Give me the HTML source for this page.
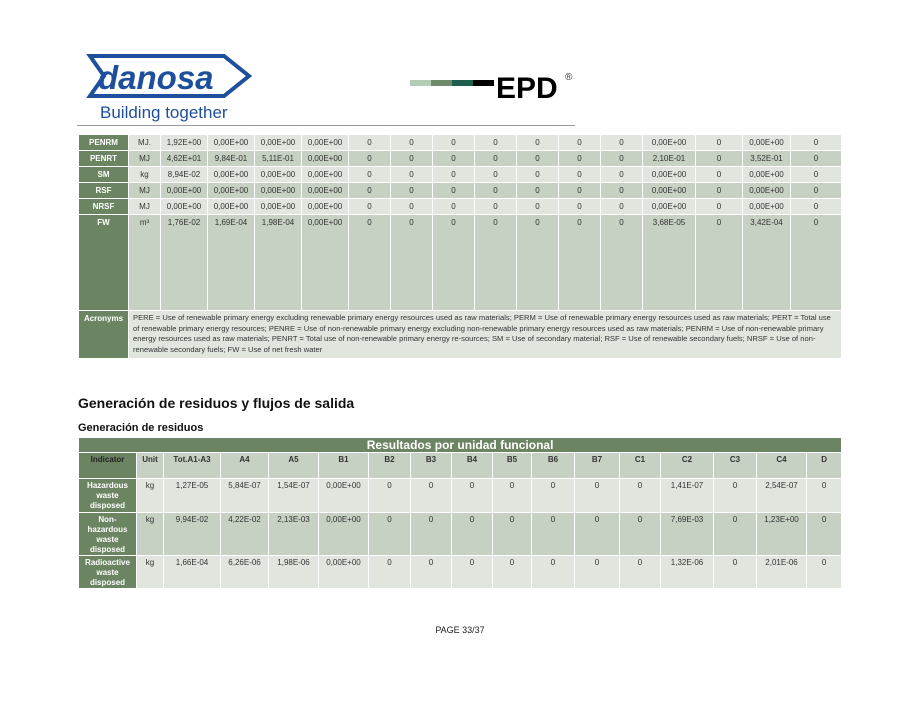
<!DOCTYPE html>
<html><head><meta charset="utf-8"><style>
body{margin:0;width:920px;height:710px;background:#fff;position:relative;font-family:"Liberation Sans",sans-serif;overflow:hidden}
.abs{position:absolute}
table{border-collapse:collapse;table-layout:fixed;position:absolute;font-size:8px;color:#333}
td{border:1px solid #fff;padding:0;vertical-align:top;text-align:center;padding-top:3px;line-height:10.5px}
td.h{background:#6b8462;color:#fff;font-weight:bold}
tr.l td{background:#e0e6de}
tr.d td{background:#c6d0c3}
td.h{background:#6b8462!important}
.t2 td{line-height:10px;padding-top:2px}
</style></head><body>
<svg class="abs" style="left:84px;top:52px" width="170" height="70">
<polygon points="6,4 140,4 165,24 140,44 6,44 20,24" fill="none" stroke="#1d4f9c" stroke-width="4"/>
<text x="14" y="37" font-family="Liberation Sans" font-weight="bold" font-style="italic" font-size="33" fill="#1d4f9c">danosa</text>
<text x="16" y="66" font-family="Liberation Sans" font-size="17" fill="#1d4f9c">Building together</text>
</svg>
<div class="abs" style="left:410px;top:80px;width:21px;height:6px;background:#b4cbb6"></div>
<div class="abs" style="left:431px;top:80px;width:21px;height:6px;background:#6f8a6b"></div>
<div class="abs" style="left:452px;top:80px;width:21px;height:6px;background:#1e5e4d"></div>
<div class="abs" style="left:473px;top:80px;width:21px;height:6px;background:#000"></div>
<div class="abs" style="left:496px;top:72px;font-size:30px;font-weight:bold;color:#000;line-height:34px">EPD</div>
<div class="abs" style="left:565px;top:72px;font-size:10px;color:#333">®</div>
<div class="abs" style="left:77px;top:125px;width:498px;height:1px;background:#999"></div>

<table style="left:78px;top:134px;width:763px">
<colgroup><col style="width:50px"><col style="width:32px"><col style="width:47px"><col style="width:47px"><col style="width:47px"><col style="width:47px"><col style="width:42px"><col style="width:42px"><col style="width:42px"><col style="width:42px"><col style="width:42px"><col style="width:42px"><col style="width:42px"><col style="width:53px"><col style="width:47px"><col style="width:48px"><col style="width:51px"></colgroup>
<tr class="l" style="height:16px"><td class="h">PENRM</td><td>MJ.</td><td>1,92E+00</td><td>0,00E+00</td><td>0,00E+00</td><td>0,00E+00</td><td>0</td><td>0</td><td>0</td><td>0</td><td>0</td><td>0</td><td>0</td><td>0,00E+00</td><td>0</td><td>0,00E+00</td><td>0</td></tr>
<tr class="d" style="height:16px"><td class="h">PENRT</td><td>MJ</td><td>4,62E+01</td><td>9,84E-01</td><td>5,11E-01</td><td>0,00E+00</td><td>0</td><td>0</td><td>0</td><td>0</td><td>0</td><td>0</td><td>0</td><td>2,10E-01</td><td>0</td><td>3,52E-01</td><td>0</td></tr>
<tr class="l" style="height:16px"><td class="h">SM</td><td>kg</td><td>8,94E-02</td><td>0,00E+00</td><td>0,00E+00</td><td>0,00E+00</td><td>0</td><td>0</td><td>0</td><td>0</td><td>0</td><td>0</td><td>0</td><td>0,00E+00</td><td>0</td><td>0,00E+00</td><td>0</td></tr>
<tr class="d" style="height:16px"><td class="h">RSF</td><td>MJ</td><td>0,00E+00</td><td>0,00E+00</td><td>0,00E+00</td><td>0,00E+00</td><td>0</td><td>0</td><td>0</td><td>0</td><td>0</td><td>0</td><td>0</td><td>0,00E+00</td><td>0</td><td>0,00E+00</td><td>0</td></tr>
<tr class="l" style="height:16px"><td class="h">NRSF</td><td>MJ</td><td>0,00E+00</td><td>0,00E+00</td><td>0,00E+00</td><td>0,00E+00</td><td>0</td><td>0</td><td>0</td><td>0</td><td>0</td><td>0</td><td>0</td><td>0,00E+00</td><td>0</td><td>0,00E+00</td><td>0</td></tr>
<tr class="d" style="height:96px"><td class="h">FW</td><td>m³</td><td>1,76E-02</td><td>1,69E-04</td><td>1,98E-04</td><td>0,00E+00</td><td>0</td><td>0</td><td>0</td><td>0</td><td>0</td><td>0</td><td>0</td><td>3,68E-05</td><td>0</td><td>3,42E-04</td><td>0</td></tr>
<tr class="l" style="height:48px"><td class="h">Acronyms</td><td colspan="16" style="text-align:left;padding:2px 3px 0 4px;font-size:7.6px;line-height:10.5px">PERE = Use of renewable primary energy excluding renewable primary energy resources used as raw materials; PERM = Use of renewable primary energy resources used as raw materials; PERT = Total use of renewable primary energy resources; PENRE = Use of non-renewable primary energy excluding non-renewable primary energy resources used as raw materials; PENRM = Use of non-renewable primary energy resources used as raw materials; PENRT = Total use of non-renewable primary energy re-sources; SM = Use of secondary material; RSF = Use of renewable secondary fuels; NRSF = Use of non-renewable secondary fuels; FW = Use of net fresh water</td></tr>
</table>

<div class="abs" style="left:78px;top:395px;font-size:14px;font-weight:bold;color:#111">Generación de residuos y flujos de salida</div>
<div class="abs" style="left:78px;top:422px;font-size:11px;font-weight:bold;color:#111">Generación de residuos</div>

<table class="t2" style="left:78px;top:437px;width:763px">
<colgroup><col style="width:58px"><col style="width:27px"><col style="width:57px"><col style="width:48px"><col style="width:50px"><col style="width:50px"><col style="width:42px"><col style="width:41px"><col style="width:41px"><col style="width:39px"><col style="width:43px"><col style="width:45px"><col style="width:41px"><col style="width:53px"><col style="width:43px"><col style="width:50px"><col style="width:35px"></colgroup>
<tr style="height:15px"><td colspan="17" style="background:#6b8462;color:#fff;font-weight:bold;font-size:12px;padding:0;line-height:14px">Resultados por unidad funcional</td></tr>
<tr class="d" style="height:26px"><td class="h" style="color:#222">Indicator</td><td><b>Unit</b></td><td><b>Tot.A1-A3</b></td><td><b>A4</b></td><td><b>A5</b></td><td><b>B1</b></td><td><b>B2</b></td><td><b>B3</b></td><td><b>B4</b></td><td><b>B5</b></td><td><b>B6</b></td><td><b>B7</b></td><td><b>C1</b></td><td><b>C2</b></td><td><b>C3</b></td><td><b>C4</b></td><td><b>D</b></td></tr>
<tr class="l" style="height:34px"><td class="h">Hazardous waste disposed</td><td>kg</td><td>1,27E-05</td><td>5,84E-07</td><td>1,54E-07</td><td>0,00E+00</td><td>0</td><td>0</td><td>0</td><td>0</td><td>0</td><td>0</td><td>0</td><td>1,41E-07</td><td>0</td><td>2,54E-07</td><td>0</td></tr>
<tr class="d" style="height:43px"><td class="h">Non-hazardous waste disposed</td><td>kg</td><td>9,94E-02</td><td>4,22E-02</td><td>2,13E-03</td><td>0,00E+00</td><td>0</td><td>0</td><td>0</td><td>0</td><td>0</td><td>0</td><td>0</td><td>7,69E-03</td><td>0</td><td>1,23E+00</td><td>0</td></tr>
<tr class="l" style="height:33px"><td class="h">Radioactive waste disposed</td><td>kg</td><td>1,66E-04</td><td>6,26E-06</td><td>1,98E-06</td><td>0,00E+00</td><td>0</td><td>0</td><td>0</td><td>0</td><td>0</td><td>0</td><td>0</td><td>1,32E-06</td><td>0</td><td>2,01E-06</td><td>0</td></tr>
</table>

<div class="abs" style="left:0;width:920px;top:625px;text-align:center;font-size:9px;color:#222">PAGE 33/37</div>
</body></html>
